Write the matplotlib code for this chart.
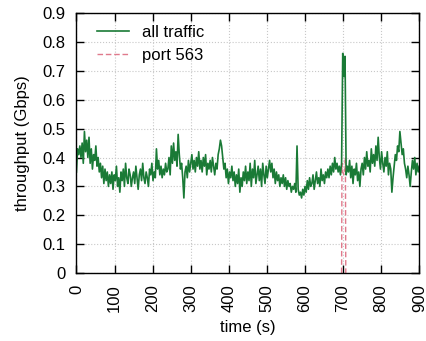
import numpy as np
import matplotlib
matplotlib.use('Agg')
import matplotlib.pyplot as plt

plt.rcParams['font.family'] = ['Liberation Sans', 'DejaVu Sans']

# all traffic, one reading every 3 s (Gbps)
t_all = np.arange(0, 901, 3)
v_all = [
    0.35, 0.43, 0.41, 0.44, 0.40, 0.45, 0.38, 0.49, 0.42, 0.46,
    0.40, 0.47, 0.38, 0.43, 0.36, 0.41, 0.39, 0.44, 0.37, 0.40,
    0.35, 0.38, 0.33, 0.37, 0.31, 0.36, 0.32, 0.35, 0.30, 0.34,
    0.31, 0.35, 0.29, 0.34, 0.32, 0.37, 0.30, 0.33, 0.28, 0.35,
    0.32, 0.36, 0.30, 0.38, 0.33, 0.31, 0.36, 0.34, 0.30, 0.33,
    0.35, 0.31, 0.37, 0.33, 0.29, 0.34, 0.36, 0.32, 0.38, 0.33,
    0.31, 0.35, 0.33, 0.30, 0.36, 0.34, 0.38, 0.32, 0.35, 0.33,
    0.43, 0.36, 0.39, 0.34, 0.37, 0.33, 0.36, 0.34, 0.38, 0.35,
    0.36, 0.40, 0.34, 0.44, 0.38, 0.45, 0.39, 0.42, 0.37, 0.48,
    0.41, 0.36, 0.38, 0.33, 0.26, 0.35, 0.37, 0.33, 0.39, 0.35,
    0.38, 0.41, 0.36, 0.39, 0.35, 0.40, 0.37, 0.42, 0.36, 0.39,
    0.35, 0.40, 0.37, 0.41, 0.34, 0.38, 0.36, 0.39, 0.35, 0.40,
    0.37, 0.34, 0.38, 0.36, 0.41, 0.43, 0.46, 0.44, 0.40, 0.36,
    0.38, 0.33, 0.36, 0.31, 0.35, 0.33, 0.37, 0.32, 0.35, 0.30,
    0.34, 0.31, 0.36, 0.28, 0.33, 0.30, 0.35, 0.32, 0.37, 0.31,
    0.35, 0.32, 0.38, 0.30, 0.36, 0.33, 0.39, 0.31, 0.34, 0.37,
    0.32, 0.36, 0.30, 0.38, 0.34, 0.31, 0.37, 0.33, 0.36, 0.39,
    0.35, 0.38, 0.33, 0.36, 0.31, 0.35, 0.32, 0.34, 0.30, 0.33,
    0.31, 0.34, 0.30, 0.33, 0.29, 0.32, 0.30, 0.31, 0.28, 0.30,
    0.29, 0.31, 0.28, 0.44, 0.29, 0.27, 0.28, 0.26, 0.29, 0.27,
    0.30, 0.28, 0.32, 0.29, 0.33, 0.30, 0.31, 0.34, 0.29, 0.32,
    0.35, 0.31, 0.33, 0.30, 0.36, 0.32, 0.34, 0.31, 0.35, 0.33,
    0.36, 0.33, 0.37, 0.34, 0.38, 0.35, 0.40, 0.36, 0.38, 0.35,
    0.37, 0.34, 0.38, 0.76, 0.68, 0.75, 0.34, 0.37, 0.35, 0.39,
    0.33, 0.37, 0.31, 0.36, 0.34, 0.38, 0.32, 0.35, 0.30, 0.36,
    0.38, 0.34, 0.40, 0.36, 0.42, 0.37, 0.39, 0.35, 0.43, 0.38,
    0.41, 0.37, 0.44, 0.39, 0.47, 0.40, 0.36, 0.42, 0.38, 0.35,
    0.40, 0.37, 0.42, 0.34, 0.38, 0.36, 0.28, 0.33, 0.37, 0.41,
    0.39, 0.44, 0.42, 0.49, 0.45, 0.41, 0.43, 0.38, 0.36, 0.33,
    0.37, 0.34, 0.30, 0.35, 0.39, 0.36, 0.40, 0.34, 0.38, 0.35, 0.37,
]

# port 563 only shows up during the burst
t_port = [696, 697, 699, 702, 705, 706, 707]
v_port = [0, 0.38, 0.35, 0.34, 0.36, 0.40, 0]

fig = plt.figure(figsize=(4.27, 3.41), dpi=100)
ax = fig.add_axes([0.179, 0.199, 0.803, 0.763])

ax.plot(t_all, v_all, color='#1a7a36', lw=1.2, label='all traffic', zorder=3)
ax.plot(t_port, v_port, color='#e07a8c', lw=1.0, ls=(0, (4, 2)), label='port 563', zorder=2)

ax.set_xlim(0, 900)
ax.set_ylim(0, 0.9)
ax.set_xticks(np.arange(0, 901, 100))
ax.set_yticks(np.arange(0, 0.91, 0.1))
ax.set_yticklabels(['0', '0.1', '0.2', '0.3', '0.4', '0.5', '0.6', '0.7', '0.8', '0.9'])
ax.tick_params(direction='in', length=6, width=1, top=True, right=True, labelsize=12, pad=8)
for lab in ax.get_xticklabels():
    lab.set_rotation(90)
ax.grid(True, color='#c8c8c8', ls=':', lw=0.8)
for s in ax.spines.values():
    s.set_linewidth(1.0)
    s.set_zorder(5)

ax.set_xlabel('time (s)', fontsize=12, labelpad=6)
ax.set_ylabel('throughput (Gbps)', fontsize=12, labelpad=9)
ax.legend(loc='upper left', bbox_to_anchor=(0.041, 0.98), borderaxespad=0,
          frameon=False, fontsize=12, handlelength=1.9, handletextpad=0.8,
          labelspacing=0.5)

plt.savefig('out.png', dpi=100)
